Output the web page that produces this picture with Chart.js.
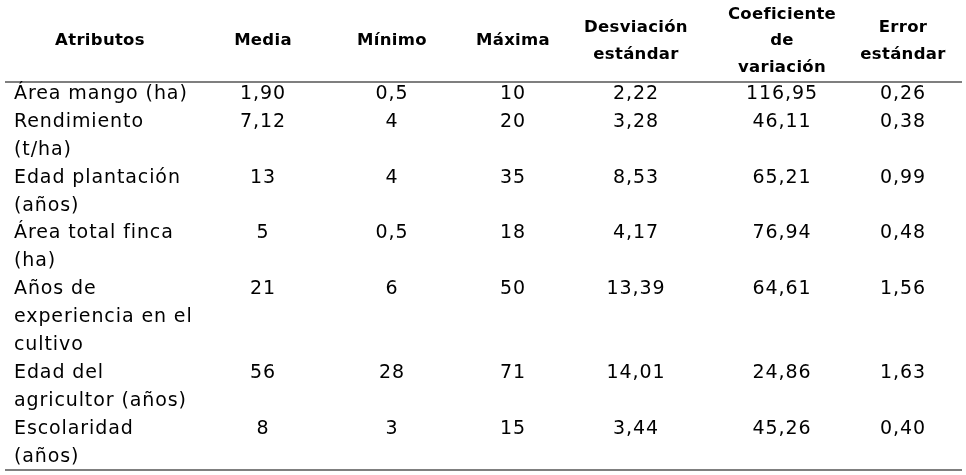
<!DOCTYPE html>
<html><head><meta charset="utf-8">
<script src="https://cdn.jsdelivr.net/npm/chart.js@4"></script>
<style>html,body{margin:0;padding:0;background:#fff}#w{width:966px;height:475px}</style>
</head><body><div id="w"><canvas id="c"></canvas></div>
<script>
const headers = [["Atributos"],["Media"],["Mínimo"],["Máxima"],["Desviación","estándar"],["Coeficiente","de","variación"],["Error","estándar"]];
const attributes = [["Área mango (ha)"],["Rendimiento","(t/ha)"],["Edad plantación","(años)"],["Área total finca","(ha)"],["Años de","experiencia en el","cultivo"],["Edad del","agricultor (años)"],["Escolaridad","(años)"]];
const media = ["1,90","7,12","13","5","21","56","8"];
const minimo = ["0,5","4","4","0,5","6","28","3"];
const maxima = ["10","20","35","18","50","71","15"];
const desviacion = ["2,22","3,28","8,53","4,17","13,39","14,01","3,44"];
const coeficiente = ["116,95","46,11","65,21","76,94","64,61","24,86","45,26"];
const errorEst = ["0,26","0,38","0,99","0,48","1,56","1,63","0,40"];
const cols = [media,minimo,maxima,desviacion,coeficiente,errorEst];
const colX = [100,263,392,513,636,782,903];
const tablePlugin = {id:'table', afterDraw(chart){
  const ctx = chart.ctx; ctx.save();
  ctx.fillStyle='#000'; ctx.textBaseline='middle';
  ctx.font='bold 16.5px "DejaVu Sans", Verdana, sans-serif'; ctx.textAlign='center';
  ctx.letterSpacing='0.3px';
  const hc = 41, lh = 26.5;
  headers.forEach((h,i)=>{ const y0 = hc-(h.length-1)*lh/2; h.forEach((t,j)=>ctx.fillText(t,colX[i],y0+j*lh)); });
  ctx.strokeStyle='#000'; ctx.lineWidth=1.2;
  ctx.beginPath(); ctx.moveTo(5,82); ctx.lineTo(962,82); ctx.moveTo(5,470); ctx.lineTo(962,470); ctx.stroke();
  ctx.font='19px "DejaVu Sans", Verdana, sans-serif';
  ctx.letterSpacing='0.9px';
  let y = 94; const rl = 27.9;
  attributes.forEach((a,r)=>{
    ctx.textAlign='left'; a.forEach((t,j)=>ctx.fillText(t,14,y+j*rl));
    ctx.textAlign='center'; cols.forEach((c,k)=>ctx.fillText(c[r],colX[k+1],y));
    y += a.length*rl;
  });
  ctx.restore();
}};
new Chart(document.getElementById('c'),{type:'bar',data:{labels:[],datasets:[]},
 options:{responsive:true,maintainAspectRatio:false,animation:false,events:[],
 plugins:{legend:{display:false},tooltip:{enabled:false}},
 scales:{x:{display:false},y:{display:false}}},plugins:[tablePlugin]});
</script></body></html>
